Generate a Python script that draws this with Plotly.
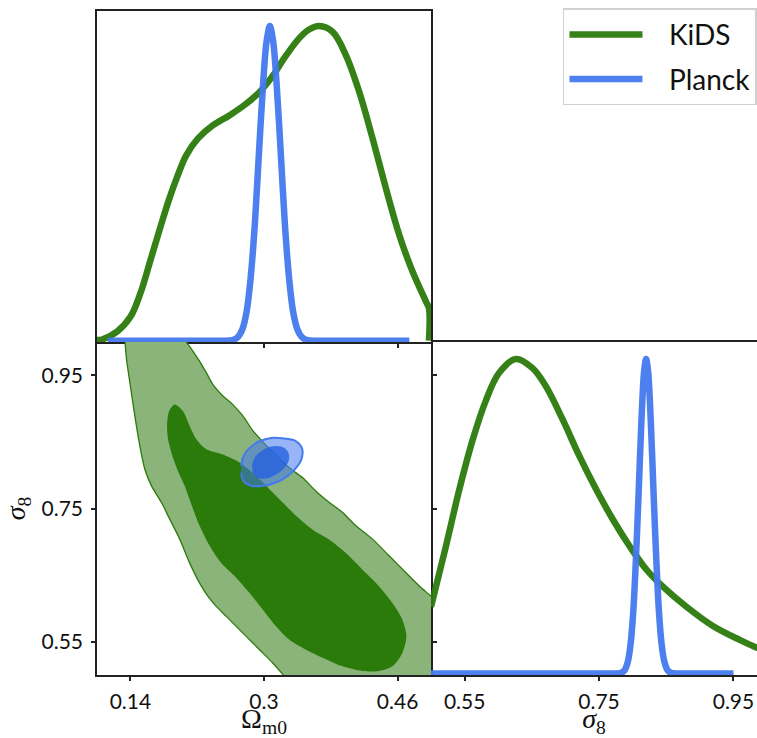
import plotly.graph_objects as go

# ---- 1D marginal posteriors (normalised to peak = 1) ----
om_kids_x = [0.100, 0.106, 0.124, 0.140, 0.152, 0.164, 0.176, 0.186, 0.196, 0.207,
             0.221, 0.239, 0.259, 0.279, 0.295, 0.311, 0.326, 0.342, 0.354, 0.366,
             0.382, 0.398, 0.414, 0.430, 0.446, 0.462, 0.478, 0.494, 0.4975, 0.4975]
om_kids_p = [0.002, 0.004, 0.029, 0.076, 0.151, 0.256, 0.362, 0.447, 0.521, 0.590,
             0.643, 0.685, 0.717, 0.754, 0.791, 0.844, 0.905, 0.961, 0.989, 1.000,
             0.982, 0.908, 0.791, 0.643, 0.484, 0.336, 0.219, 0.124, 0.103, 0.000]

om_planck_x = [0.113, 0.200, 0.250, 0.262, 0.268, 0.274, 0.279, 0.284, 0.289, 0.294, 0.299,
               0.303, 0.307, 0.311, 0.315, 0.320, 0.325, 0.330, 0.335, 0.340, 0.346, 0.352,
               0.364, 0.420, 0.474]
om_planck_p = [0.0, 0.0, 0.0, 0.002, 0.010, 0.036, 0.090, 0.200, 0.370, 0.600, 0.820,
               0.950, 1.000, 0.950, 0.820, 0.600, 0.370, 0.200, 0.090, 0.036, 0.010, 0.002,
               0.0, 0.0, 0.0]

s8_kids_x = [0.500, 0.522, 0.542, 0.562, 0.582, 0.601, 0.626, 0.651, 0.671, 0.696,
             0.721, 0.746, 0.771, 0.796, 0.821, 0.845, 0.880, 0.920, 0.960, 0.985, 1.000]
s8_kids_p = [0.212, 0.403, 0.584, 0.743, 0.870, 0.955, 1.000, 0.971, 0.913, 0.807,
             0.690, 0.584, 0.488, 0.403, 0.329, 0.276, 0.212, 0.150, 0.106, 0.082, 0.072]

s8_planck_x = [0.500, 0.650, 0.760, 0.783, 0.788, 0.793, 0.797, 0.801, 0.805, 0.809, 0.813,
               0.817, 0.820, 0.823, 0.827, 0.831, 0.835, 0.839, 0.843, 0.847, 0.852, 0.857,
               0.880, 0.920, 0.950]
s8_planck_p = [0.0, 0.0, 0.0, 0.002, 0.010, 0.039, 0.095, 0.200, 0.370, 0.580, 0.800,
               0.960, 1.000, 0.960, 0.800, 0.580, 0.370, 0.200, 0.095, 0.039, 0.010, 0.002,
               0.0, 0.0, 0.0]

# ---- 2D credible regions (Omega_m0, sigma_8) ----
kids95_om = [0.133, 0.1334, 0.1354, 0.1394, 0.1453, 0.1513, 0.1573, 0.1652, 0.1772, 0.1871,
             0.1991, 0.2110, 0.2229, 0.2329, 0.2428, 0.2548, 0.2667, 0.2787, 0.2946, 0.3105,
             0.3224, 0.335, 0.52, 0.52, 0.4856, 0.4697, 0.4498, 0.4299, 0.4100, 0.3941,
             0.3782, 0.3622, 0.3463, 0.3304, 0.3145, 0.2986, 0.2866, 0.2747, 0.2627, 0.2508,
             0.2389, 0.2309, 0.2229, 0.2150, 0.2050, 0.200]
kids95_s8 = [1.02, 1.004, 0.974, 0.939, 0.889, 0.844, 0.809, 0.784, 0.759, 0.734,
             0.704, 0.668, 0.638, 0.618, 0.603, 0.588, 0.573, 0.558, 0.538, 0.518,
             0.501, 0.48, 0.48, 0.59, 0.634, 0.654, 0.679, 0.704, 0.724, 0.744,
             0.759, 0.776, 0.796, 0.811, 0.830, 0.850, 0.867, 0.889, 0.906, 0.919,
             0.936, 0.954, 0.971, 0.986, 1.004, 1.02]

kids68_om = [0.1931, 0.1863, 0.1839, 0.1851, 0.1903, 0.1971, 0.2050, 0.2130, 0.2229, 0.2349,
             0.2488, 0.2667, 0.2827, 0.2986, 0.3145, 0.3304, 0.3503, 0.3702, 0.3941, 0.4180,
             0.4379, 0.4538, 0.4657, 0.4705, 0.4657, 0.4538, 0.4379, 0.4180, 0.3981, 0.3782,
             0.3583, 0.3384, 0.3224, 0.3065, 0.2906, 0.2707, 0.2508, 0.2309, 0.2190, 0.2110,
             0.2030, 0.1931]
kids68_s8 = [0.906, 0.896, 0.874, 0.854, 0.829, 0.806, 0.784, 0.756, 0.724, 0.694,
             0.668, 0.646, 0.623, 0.598, 0.573, 0.553, 0.538, 0.526, 0.513, 0.506,
             0.506, 0.513, 0.533, 0.558, 0.583, 0.608, 0.633, 0.658, 0.683, 0.703,
             0.718, 0.739, 0.759, 0.779, 0.799, 0.819, 0.831, 0.839, 0.854, 0.874,
             0.896, 0.906]

planck95_om = [0.2727, 0.2755, 0.2827, 0.2946, 0.3085, 0.3245, 0.3384, 0.3456, 0.3448, 0.3384,
               0.3284, 0.3145, 0.2986, 0.2846, 0.2755, 0.2727]
planck95_s8 = [0.814, 0.829, 0.841, 0.851, 0.856, 0.855, 0.851, 0.840, 0.824, 0.811,
               0.799, 0.789, 0.784, 0.784, 0.791, 0.804]

planck68_om = [0.2855, 0.2886, 0.2966, 0.3085, 0.3205, 0.3284, 0.3300, 0.3245, 0.3145, 0.3025,
               0.2926, 0.2866]
planck68_s8 = [0.814, 0.826, 0.836, 0.843, 0.843, 0.836, 0.824, 0.811, 0.801, 0.795,
               0.796, 0.804]

om_ticks = [0.14, 0.3, 0.46]
s8_ticks = [0.55, 0.75, 0.95]
om_ticktext = ["0.14", "0.3", "0.46"]
s8_ticktext = ["0.55", "0.75", "0.95"]

GREEN = "#2b7b0b"
GREEN_LIGHT = "#8bb47a"
BLUE = "#4479ef"
LINE_W = 6.5
PAD = "\u00a0\u00a0\u00a0"

fig = go.Figure()

# 2D panel: KiDS 95%/68%, then Planck 95%/68% on top
fig.add_trace(go.Scatter(x=kids95_om, y=kids95_s8, xaxis="x2", yaxis="y2", mode="lines",
                         fill="toself", fillcolor=GREEN_LIGHT,
                         line=dict(color=GREEN, width=1.3, shape="spline", smoothing=0.8),
                         showlegend=False, hoverinfo="skip"))
fig.add_trace(go.Scatter(x=kids68_om, y=kids68_s8, xaxis="x2", yaxis="y2", mode="lines",
                         fill="toself", fillcolor=GREEN,
                         line=dict(color=GREEN, width=0, shape="spline", smoothing=0.8),
                         showlegend=False, hoverinfo="skip"))
fig.add_trace(go.Scatter(x=planck95_om, y=planck95_s8, xaxis="x2", yaxis="y2", mode="lines",
                         fill="toself", fillcolor="rgba(68,121,241,0.55)",
                         line=dict(color=BLUE, width=2, shape="spline", smoothing=1.0),
                         showlegend=False, hoverinfo="skip"))
fig.add_trace(go.Scatter(x=planck68_om, y=planck68_s8, xaxis="x2", yaxis="y2", mode="lines",
                         fill="toself", fillcolor="rgba(38,98,222,0.8)",
                         line=dict(color="rgba(38,98,222,0.8)", width=0, shape="spline", smoothing=1.0),
                         showlegend=False, hoverinfo="skip"))

# Omega_m0 marginals
fig.add_trace(go.Scatter(x=om_kids_x, y=om_kids_p, xaxis="x", yaxis="y", mode="lines",
                         line=dict(color=GREEN, width=LINE_W, shape="spline", smoothing=1.0),
                         opacity=0.95, name=PAD + "KiDS", legendgroup="kids",
                         showlegend=True))
fig.add_trace(go.Scatter(x=om_planck_x, y=om_planck_p, xaxis="x", yaxis="y", mode="lines",
                         line=dict(color=BLUE, width=LINE_W, shape="spline", smoothing=0.9),
                         opacity=0.95, name=PAD + "Planck", legendgroup="planck",
                         showlegend=True))

# sigma_8 marginals
fig.add_trace(go.Scatter(x=s8_kids_x, y=s8_kids_p, xaxis="x3", yaxis="y3", mode="lines",
                         line=dict(color=GREEN, width=LINE_W, shape="spline", smoothing=1.0),
                         opacity=0.95, showlegend=False))
fig.add_trace(go.Scatter(x=s8_planck_x, y=s8_planck_p, xaxis="x3", yaxis="y3", mode="lines",
                         line=dict(color=BLUE, width=LINE_W, shape="spline", smoothing=0.9),
                         opacity=0.95, showlegend=False))

AX = dict(showgrid=False, zeroline=False, showline=True, linecolor="#222", linewidth=1.5,
          tickcolor="#222", ticklen=4, tickwidth=1.5, ticks="outside", automargin=False)
TICKFONT = dict(family="Lato", size=21, color="#111")
MATHFONT = dict(family="Liberation Serif", size=28, color="#111")

xl = [0, 0.5061]
xr = [0.5061, 1]
yt = [0.5015, 1]
yb = [0, 0.5015]

fig.update_layout(
    width=757, height=738,
    margin=dict(l=97, r=0, t=11, b=63),
    paper_bgcolor="white", plot_bgcolor="white",
    # top-left: Omega_m0 marginal, boxed
    xaxis=dict(AX, domain=xl, anchor="y", range=[0.1, 0.5], tickvals=om_ticks,
               showticklabels=False, mirror=True),
    yaxis=dict(AX, domain=yt, anchor="x", range=[-0.004, 1.048], ticks="",
               showticklabels=False, mirror=True),
    # bottom-left: 2D panel (its top spine is the marginal panel's bottom spine)
    xaxis2=dict(AX, domain=xl, anchor="y2", range=[0.1, 0.5], tickvals=om_ticks,
                ticktext=om_ticktext, tickfont=TICKFONT, ticklabelstandoff=3,
                title=dict(text="Ω<sub>m0</sub>", font=MATHFONT, standoff=11)),
    yaxis2=dict(AX, domain=yb, anchor="x2", range=[0.5, 1.0], tickvals=s8_ticks,
                ticktext=s8_ticktext, tickfont=TICKFONT, mirror="ticks", ticklabelstandoff=4,
                title=dict(text="<i>σ</i><sub>8</sub>", font=MATHFONT, standoff=8)),
    # bottom-right: sigma_8 marginal (left spine shared with the 2D panel)
    xaxis3=dict(AX, domain=xr, anchor="y3", range=[0.5, 0.985], tickvals=s8_ticks,
                ticktext=s8_ticktext, tickfont=TICKFONT, mirror=True, ticklabelstandoff=3,
                title=dict(text="<i>σ</i><sub>8</sub>", font=MATHFONT, standoff=11)),
    yaxis3=dict(AX, domain=yb, anchor="x3", range=[-0.005, 1.054], ticks="",
                showticklabels=False, showline=False),
    yaxis4=dict(AX, overlaying="y3", anchor="x3", side="left", range=[0.5, 1.0],
                tickvals=s8_ticks, showticklabels=False, showline=False),
    legend=dict(x=0.706, y=1.004, xanchor="left", yanchor="top",
                font=dict(family="Lato", size=28, color="#111"),
                bordercolor="#d0d0d0", borderwidth=1.5, bgcolor="rgba(255,255,255,0.9)",
                itemwidth=73, tracegroupgap=5),
)

fig.write_html("out.html")
